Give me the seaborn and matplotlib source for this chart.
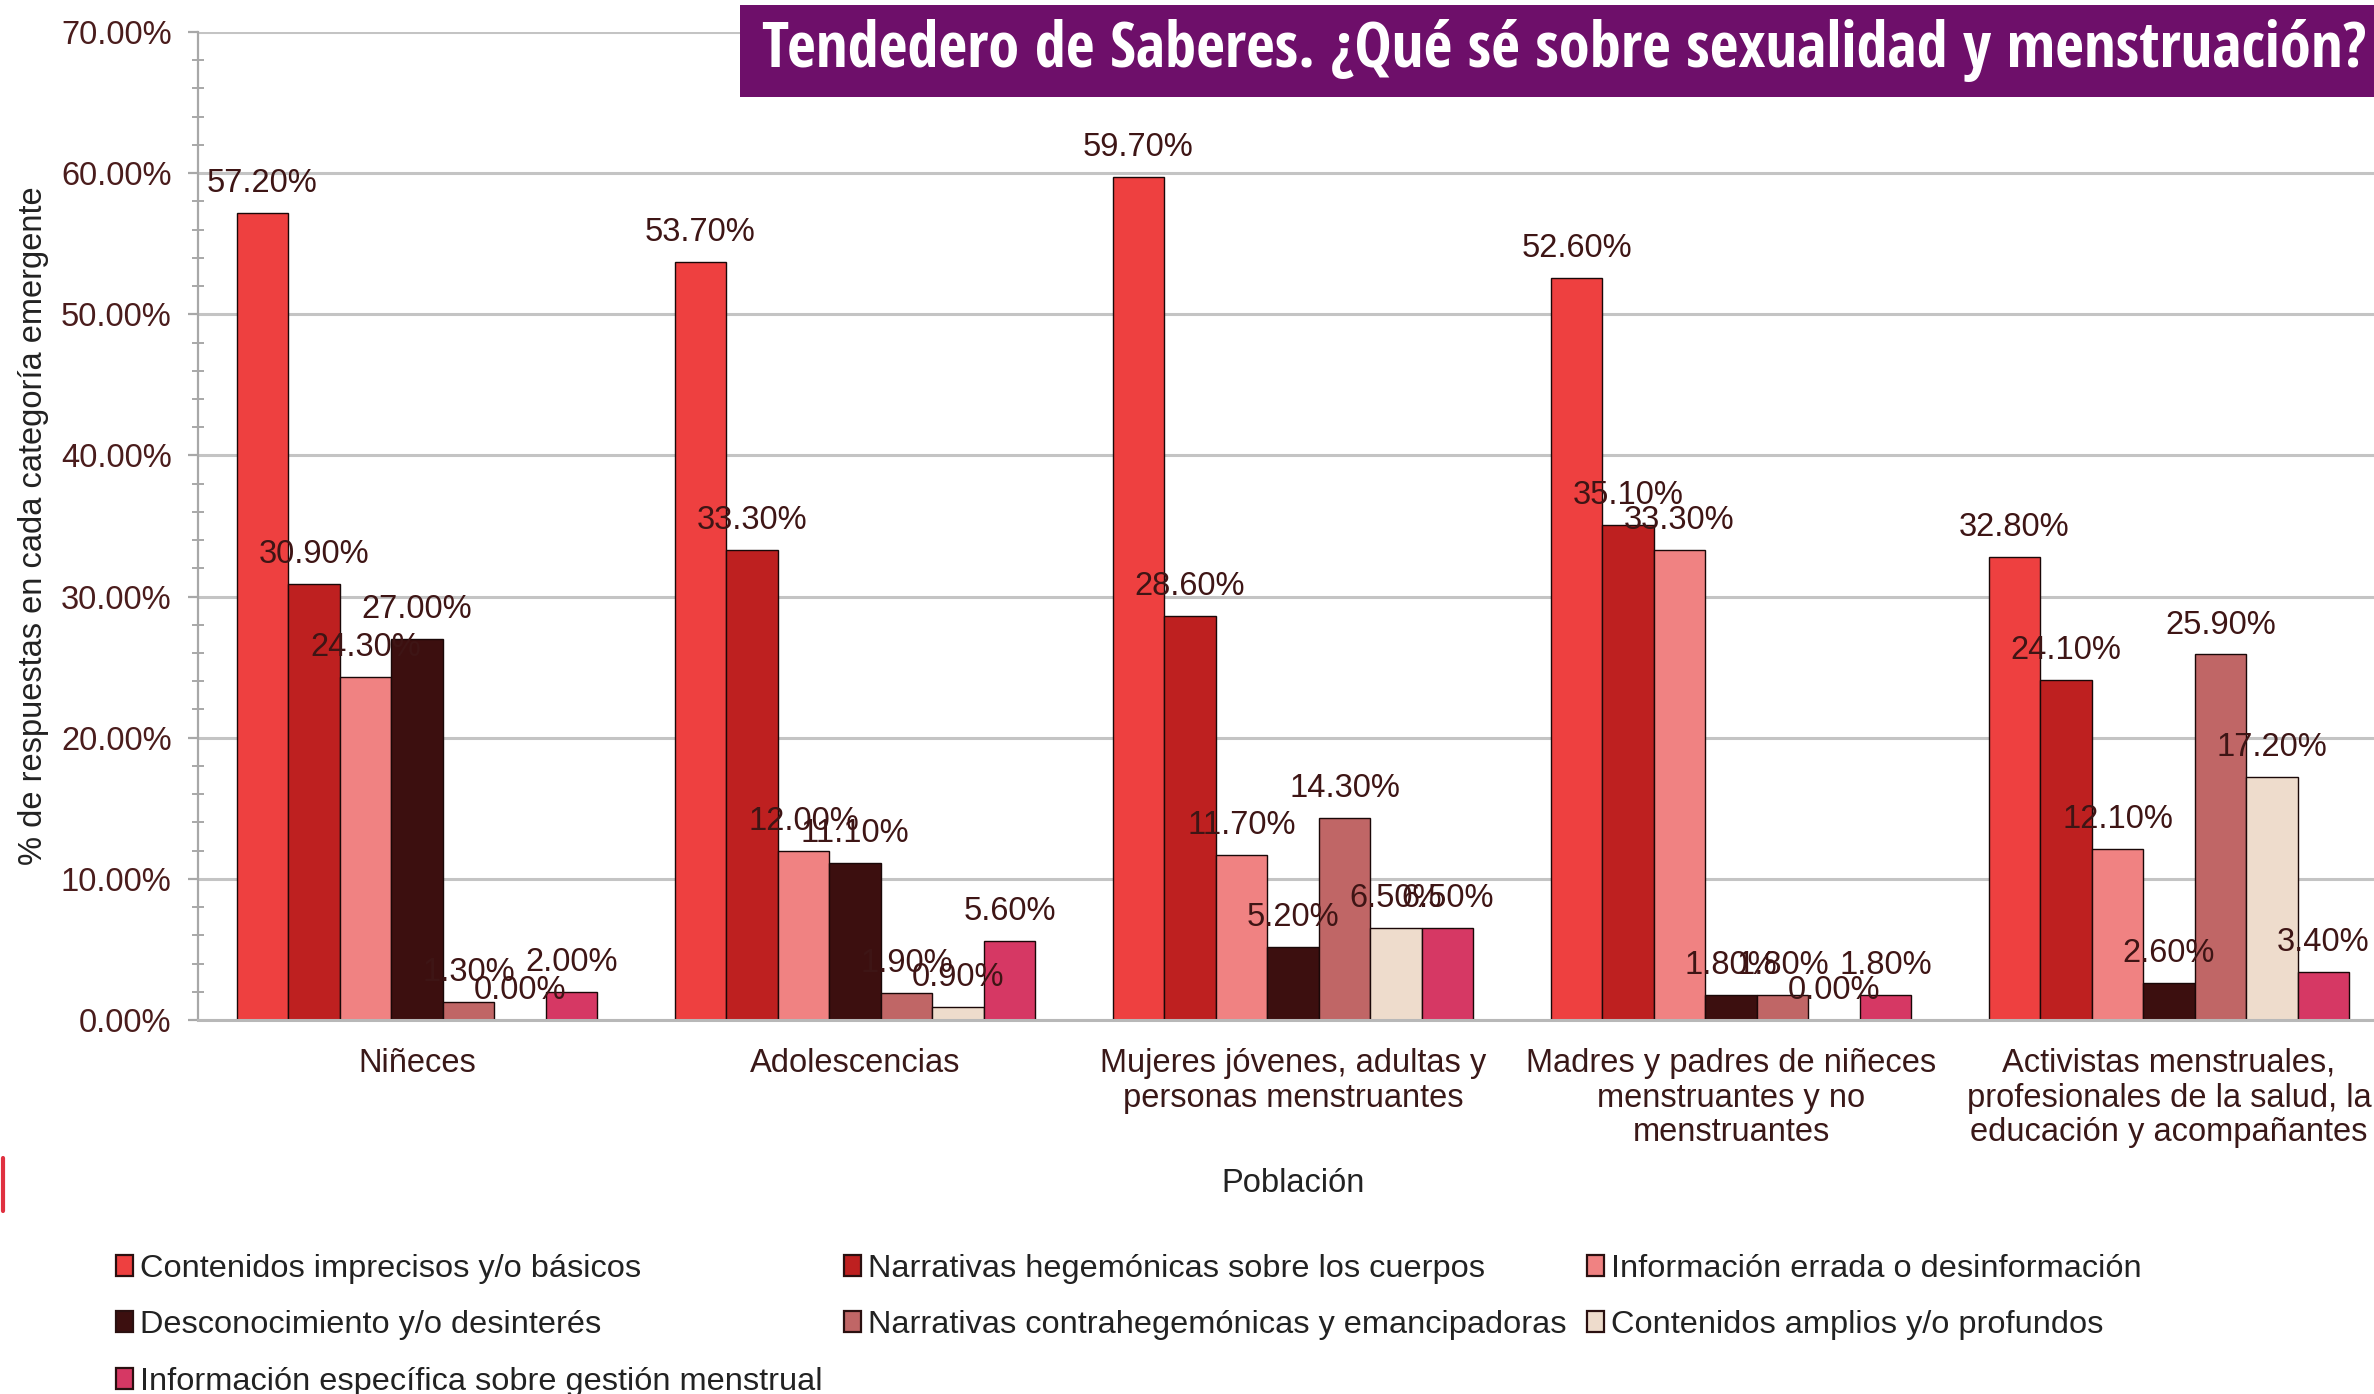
import numpy as np
import pandas as pd
import matplotlib
matplotlib.use("Agg")
import matplotlib.pyplot as plt
import seaborn as sns
from matplotlib import font_manager
from matplotlib.patches import Patch, Rectangle
from matplotlib.lines import Line2D
from matplotlib.ticker import MultipleLocator, FuncFormatter

# ---------------- data ----------------
poblaciones = [
    "Niñeces",
    "Adolescencias",
    "Mujeres jóvenes, adultas y\npersonas menstruantes",
    "Madres y padres de niñeces\nmenstruantes y no\nmenstruantes",
    "Activistas menstruales,\nprofesionales de la salud, la\neducación y acompañantes",
]
categorias = [
    "Contenidos imprecisos y/o básicos",
    "Narrativas hegemónicas sobre los cuerpos",
    "Información errada o desinformación",
    "Desconocimiento y/o desinterés",
    "Narrativas contrahegemónicas y emancipadoras",
    "Contenidos amplios y/o profundos",
    "Información específica sobre gestión menstrual",
]
contenidos_imprecisos = [57.2, 53.7, 59.7, 52.6, 32.8]
narrativas_hegemonicas = [30.9, 33.3, 28.6, 35.1, 24.1]
informacion_errada = [24.3, 12.0, 11.7, 33.3, 12.1]
desconocimiento = [27.0, 11.1, 5.2, 1.8, 2.6]
narrativas_contrahegemonicas = [1.3, 1.9, 14.3, 1.8, 25.9]
contenidos_amplios = [0.0, 0.9, 6.5, 0.0, 17.2]
informacion_especifica = [2.0, 5.6, 6.5, 1.8, 3.4]
y_ticks = [0, 10, 20, 30, 40, 50, 60, 70]

colores = ["#EE4040", "#BE2020", "#F08282", "#3C0F0F", "#C06666", "#EEDCCC", "#D63864"]

series = [contenidos_imprecisos, narrativas_hegemonicas, informacion_errada,
          desconocimiento, narrativas_contrahegemonicas, contenidos_amplios,
          informacion_especifica]
rows = []
for cat, vals in zip(categorias, series):
    for pob, v in zip(poblaciones, vals):
        rows.append({"Población": pob, "Categoría": cat, "Porcentaje": v})
df = pd.DataFrame(rows)

# ---------------- style ----------------
sns.set_theme(style="white")
available = {f.name for f in font_manager.fontManager.ttflist}


def pick(*names):
    for n in names:
        if n in available:
            return n
    return "DejaVu Sans"


base_font = pick("Liberation Sans", "Arimo", "DejaVu Sans")
title_font = pick("Open Sans SemiCondensed", "Open Sans Semi Condensed",
                  "Open Sans Condensed", "Liberation Sans Narrow",
                  "Roboto Condensed", "Open Sans")
plt.rcParams["font.family"] = [base_font, "DejaVu Sans"]

W, H = 2374, 1394
fig = plt.figure(figsize=(W / 100, H / 100), dpi=100)
fig.patch.set_facecolor("white")

ax_left, ax_right = 198, 2388
ax_top, ax_bottom = 32, 1020
ax = fig.add_axes([ax_left / W, (H - ax_bottom) / H, (ax_right - ax_left) / W,
                   (ax_bottom - ax_top) / H])

sns.barplot(data=df, x="Población", y="Porcentaje", hue="Categoría",
            order=poblaciones, hue_order=categorias, palette=colores,
            saturation=1, width=0.823, edgecolor="#1a0808", linewidth=1.0,
            errorbar=None, legend=False, ax=ax)

label_color = "#3E1515"
for cont in ax.containers:
    vals = cont.datavalues
    ax.bar_label(cont, labels=[f"{v:.2f}%" for v in vals], padding=10,
                 fontsize=23.5, color=label_color, zorder=5)

ax.set_ylim(0, 70)
ax.set_xlim(-0.5, 4.5)
ax.set_yticks(y_ticks)
ax.yaxis.set_major_formatter(FuncFormatter(lambda v, p: f"{v:.2f}%"))
ax.yaxis.set_minor_locator(MultipleLocator(2))
ax.set_axisbelow(True)
ax.yaxis.grid(True, which="major", color="#C4C4C4", lw=2.2)
ax.xaxis.grid(False)

ax.tick_params(axis="y", which="major", direction="out", length=7, width=1.6,
               color="#A8A8A8", pad=12, labelsize=23.5, labelcolor="#4A1C1C",
               left=True)
ax.tick_params(axis="y", which="minor", direction="inout", length=9, width=1.4,
               color="#A8A8A8", left=True)
ax.tick_params(axis="x", length=0, pad=20, labelsize=23.5, labelcolor="#3A1818")
ax.set_xticks(range(len(poblaciones)))
ax.set_xticklabels(poblaciones, linespacing=1.16)

for s in ["top", "right"]:
    ax.spines[s].set_visible(False)
ax.spines["left"].set_color("#A8A8A8")
ax.spines["left"].set_linewidth(1.6)
ax.spines["bottom"].set_color("#B8B8B8")
ax.spines["bottom"].set_linewidth(2.2)

ax.set_xlabel("Población", fontsize=23.5, color="#222222")
ax.xaxis.set_label_coords(0.5, -(1168 - ax_bottom) / (ax_bottom - ax_top))
ax.set_ylabel("% de respuestas en cada categoría emergente", fontsize=23.5,
              color="#222222")
ax.yaxis.label.set_va("center")
ax.yaxis.set_label_coords(-(ax_left - 33) / (ax_right - ax_left), 0.5)

# ---------------- legend ----------------
handles = [Patch(facecolor=c, edgecolor="#2a1010", linewidth=1.6, label=l)
           for c, l in zip(colores, categorias)]
order = [0, 3, 6, 1, 4, 2, 5]
fig.legend(handles=[handles[i] for i in order], loc="upper left",
           bbox_to_anchor=(116 / W, (H - 1254) / H), ncol=3, frameon=False,
           fontsize=23.4, handlelength=0.52, handleheight=0.62,
           handletextpad=0.22, columnspacing=0.65, labelspacing=0.81,
           borderpad=0, borderaxespad=0, labelcolor="#222222")

# ---------------- title banner ----------------
fig.add_artist(Rectangle((740 / W, (H - 97) / H), (W - 740) / W + 0.01, 92 / H,
                         transform=fig.transFigure, facecolor="#6E0F6A",
                         edgecolor="none", zorder=10))
title = fig.text(762 / W, (H - 50) / H,
                 "Tendedero de Saberes. ¿Qué sé sobre sexualidad y menstruación?",
                 color="white", fontsize=36, fontweight="bold",
                 family=[title_font, "DejaVu Sans"], ha="left", va="center",
                 zorder=11)
fig.canvas.draw()
bb = title.get_window_extent()
target_w = 2366 - 762
title.set_fontsize(36 * target_w / bb.width)

# small red edge mark on the left border
fig.add_artist(Line2D([0.0012, 0.0012], [(H - 1211) / H, (H - 1158) / H],
                      transform=fig.transFigure, color="#E03040", lw=3))

fig.savefig("out.png", dpi=100, facecolor="white")
